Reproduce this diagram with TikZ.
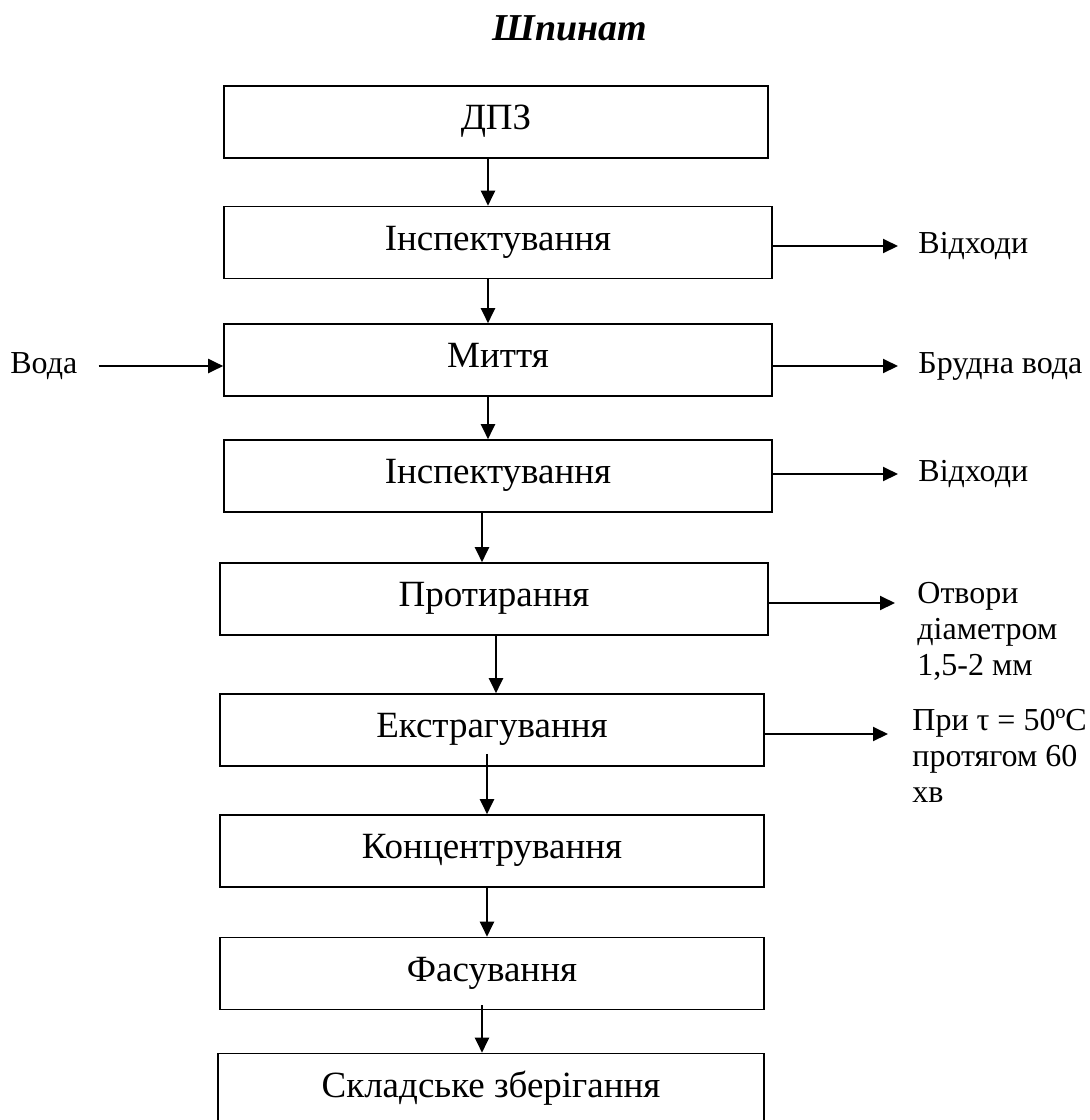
\documentclass[tikz,border=0pt]{standalone}
\usepackage{fontspec}
\setmainfont{Liberation Serif}
\usepackage{tikz}
\usetikzlibrary{arrows.meta}

\begin{document}
\begin{tikzpicture}[
  x=0.5pt, y=-0.5pt,
  stagebox/.style={rectangle, draw=black, line width=0.8pt, minimum width=272pt, minimum height=36pt, inner sep=0pt, text height=12.5pt, text depth=5pt, font=\fontsize{18.5}{22}\selectfont},
  sidelabel/.style={anchor=west, inner sep=0pt, align=left, font=\fontsize{16}{18}\selectfont},
  flow/.style={-{Triangle[length=7.5pt,width=7pt]}, line width=1pt},
]
\useasboundingbox (0,0) rectangle (1089,1120);
\clip (0,0) rectangle (1089,1120);
\node[font=\fontsize{19}{23}\selectfont\bfseries\itshape] (title) at (570,28) {Шпинат};
\node[stagebox] (dpz) at (496,122) {ДПЗ};
\node[stagebox, minimum width=274pt] (insp1) at (498,242.5) {Інспектування};
\node[stagebox, minimum width=274pt] (myttia) at (498,360) {Миття};
\node[stagebox, minimum width=274pt] (insp2) at (498,476) {Інспектування};
\node[stagebox, minimum width=274pt] (prot) at (494,599) {Протирання};
\node[stagebox] (ekstr) at (492,730) {Екстрагування};
\node[stagebox] (konc) at (492,851) {Концентрування};
\node[stagebox] (fas) at (492,973.5) {Фасування};
\node[stagebox, minimum width=273pt] (sklad) at (491,1089.5) {Складське зберігання};
\draw[flow] ([xshift=-4pt]dpz.south) -- ([xshift=-4pt]dpz.south |- insp1.north);
\draw[flow] ([xshift=-5pt]insp1.south) -- ([xshift=-5pt]insp1.south |- myttia.north);
\draw[flow] ([xshift=-5pt]myttia.south) -- ([xshift=-5pt]myttia.south |- insp2.north);
\draw[flow] ([xshift=-8pt]insp2.south) -- ([xshift=-8pt]insp2.south |- prot.north);
\draw[flow] ([xshift=1pt]prot.south) -- ([xshift=1pt]prot.south |- ekstr.north);
\draw[flow] ([xshift=-2.5pt,yshift=6.5pt]ekstr.south) -- ([xshift=-2.5pt]ekstr.south |- konc.north);
\draw[flow] ([xshift=-2.5pt]konc.south) -- ([xshift=-2.5pt]konc.south |- fas.north);
\draw[flow] ([xshift=-5pt,yshift=2.5pt]fas.south) -- ([xshift=-5pt]fas.south |- sklad.north);
\node[sidelabel] (voda) at (10,366) {Вода};
\node[sidelabel] (vidhody1) at (918,246) {Відходи};
\node[sidelabel] (brudna) at (918,366) {Брудна вода};
\node[sidelabel] (vidhody2) at (918,474) {Відходи};
\node[sidelabel] (otvory) at (917,631) {Отвори\\діаметром\\1,5-2 мм};
\node[sidelabel] (umovy) at (912,756) {При τ = 50ºC\\протягом 60\\хв};
\coordinate (otvorytip) at (895,603);
\coordinate (umovytip) at (888,734);
\draw[flow] ([xshift=10.5pt]voda.east) -- (voda.east -| myttia.west);
\draw[flow] (insp1.east |- vidhody1.west) -- ([xshift=-10pt]vidhody1.west);
\draw[flow] (myttia.east |- brudna.west) -- ([xshift=-10pt]brudna.west);
\draw[flow] (insp2.east |- vidhody2.west) -- ([xshift=-10pt]vidhody2.west);
\draw[flow] (prot.east |- otvorytip) -- (otvorytip);
\draw[flow] (ekstr.east |- umovytip) -- (umovytip);
\end{tikzpicture}
\end{document}
